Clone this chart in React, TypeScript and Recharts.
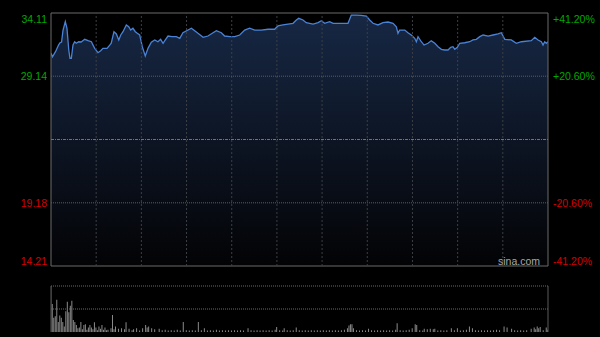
import {
  ComposedChart,
  BarChart,
  Area,
  Bar,
  XAxis,
  YAxis,
  ReferenceLine,
  ReferenceArea,
} from "recharts";

// price axis (HKD), previous close in the middle
const PRICE_TICKS = [14.21, 19.18, 24.16, 29.14, 34.11];
const PCT_TICKS = [-41.2, -20.6, 0, 20.6, 41.2];
const PRE_CLOSE = 24.16;
// half-hour marks, session = 330 minutes
const TIME_GRID = [30, 60, 90, 120, 150, 180, 210, 240, 270, 300];

// [minute, price]
const PRICE = [
  [0, 30.94], [1, 30.67], [3, 31.07], [5, 31.59], [6, 31.77], [7, 31.83],
  [8, 32.77], [9.5, 33.43], [10.6, 32.91], [11.8, 31.2], [12.6, 30.55],
  [13.5, 30.55], [14.6, 31.59], [15.7, 31.85], [16.8, 31.73], [18.4, 31.85],
  [20, 31.83], [22.4, 32.04], [24.6, 31.93], [26.8, 31.85], [29, 31.33],
  [31.2, 30.99], [33, 31.14], [34.5, 31.33], [37.2, 31.33], [39, 31.59],
  [40, 31.73], [41.8, 32.64], [43.4, 32.46], [45, 31.99], [46.3, 32.38],
  [47.8, 32.64], [50, 33.17], [51.6, 33.03], [52.9, 32.77], [54.4, 32.91],
  [56, 32.64], [57.3, 32.51], [58.9, 32.38], [60.6, 31.46], [62.6, 30.73],
  [64.4, 31.33], [66.6, 31.81], [68.9, 31.99], [71, 31.85], [72.8, 32.04],
  [74.4, 31.73], [75.9, 31.99], [77.7, 32.3], [80.3, 32.25], [83.2, 32.25],
  [85.5, 32.12], [87.6, 32.56], [91, 32.77], [93.2, 32.91], [95.4, 32.72],
  [97.6, 32.51], [101, 32.2], [104.2, 32.3], [107.6, 32.56], [109.8, 32.72],
  [113.1, 32.56], [115.3, 32.3], [118.7, 32.25], [122, 32.25], [125.3, 32.38],
  [128.6, 32.77], [131.9, 32.91], [135.3, 32.77], [139.6, 32.77], [144.1, 32.83],
  [148.5, 32.83], [150.7, 33.09], [154, 33.17], [157.4, 33.24], [160.7, 33.3],
  [162.9, 33.56], [164.5, 33.69], [167.3, 33.56], [169.5, 33.35], [174, 33.24],
  [177.3, 33.35], [179.5, 33.5], [181.7, 33.3], [185, 33.43], [187.3, 33.3],
  [197.2, 33.3], [199.4, 33.95], [202.7, 33.95], [206, 33.93], [209.4, 33.87],
  [211.6, 33.56], [213.8, 33.3], [217.1, 33.17], [220.4, 33.35], [223.8, 33.4],
  [227.1, 33.3], [229.3, 33.03], [230.4, 32.51], [231.5, 32.77], [234.9, 32.77],
  [237, 32.56], [239.2, 32.38], [241.5, 32.12], [242.6, 31.85], [243.7, 32.25],
  [245.9, 31.85], [247.7, 31.59], [250.3, 31.73], [252.5, 31.93], [254.8, 31.73],
  [257, 31.46], [259.2, 31.25], [261.4, 31.2], [263.6, 31.2], [265.4, 31.41],
  [266.9, 31.46], [268.1, 31.25], [269.8, 31.41], [271.4, 31.73], [274.7, 31.77],
  [278, 31.85], [280.2, 31.99], [282.4, 32.04], [284.7, 32.25], [286.9, 32.38],
  [290.2, 32.3], [293.5, 32.38], [296.8, 32.46], [299, 32.56], [301.3, 32.04],
  [305.6, 31.99], [309, 31.73], [312.3, 31.85], [318.9, 31.93], [321.2, 32.2],
  [323.4, 31.99], [325.6, 31.85], [326.7, 31.59], [327.8, 31.85], [328.9, 31.73],
  [330, 31.85],
];

// [minute, volume]
const VOLUME = [
  [0, 100], [1, 61], [2, 31], [3, 34], [4, 70], [5, 22], [6, 36], [7, 31],
  [8, 22], [9, 12], [10, 45], [11, 66], [12, 43], [13, 57], [14, 68], [15, 26],
  [16, 22], [17, 15], [18, 8], [19, 10], [20, 22], [21, 6], [22, 15], [23, 17],
  [24, 5], [25, 10], [26, 15], [27, 10], [28, 6], [29, 21], [30, 10], [31, 4],
  [32, 12], [33, 7], [34, 15], [35, 5], [36, 10], [37, 4], [38, 5], [40, 8],
  [41, 37], [42, 6], [43, 12], [45, 7], [47, 8], [49, 6], [50, 21], [52, 7],
  [54, 4], [55, 6], [57, 8], [59, 3], [61, 8], [63, 15], [64, 10], [65, 12],
  [67, 8], [69, 6], [72, 7], [74, 4], [76, 5], [78, 3], [80, 4], [82, 3],
  [84, 5], [86, 3], [88, 22], [90, 4], [92, 3], [94, 4], [96, 3], [98, 22],
  [100, 4], [102, 8], [104, 3], [106, 4], [108, 3], [110, 5], [112, 3], [114, 4],
  [116, 3], [118, 4], [120, 3], [122, 4], [124, 3], [126, 4], [128, 3], [131, 8],
  [133, 4], [135, 3], [137, 4], [139, 3], [141, 4], [143, 3], [145, 4], [147, 3],
  [149, 5], [150, 11], [152, 4], [154, 3], [155, 8], [157, 4], [159, 3], [161, 4],
  [163, 10], [165, 4], [167, 3], [169, 4], [171, 3], [173, 4], [175, 3], [177, 4],
  [179, 3], [181, 4], [183, 3], [185, 4], [187, 3], [189, 4], [191, 3], [193, 4],
  [195, 5], [197, 8], [198, 14], [199, 17], [200, 17], [201, 8], [203, 4], [205, 3],
  [207, 4], [209, 3], [211, 7], [213, 4], [215, 3], [217, 4], [219, 3], [221, 4],
  [223, 3], [225, 4], [227, 3], [229, 5], [230, 19], [232, 4], [234, 3], [236, 4],
  [238, 5], [240, 8], [242, 17], [243, 15], [245, 4], [247, 3], [248, 7], [250, 6],
  [252, 7], [254, 6], [255, 7], [257, 3], [259, 4], [261, 3], [263, 4], [266, 8],
  [268, 4], [270, 8], [272, 3], [274, 4], [276, 5], [278, 12], [280, 8], [282, 4],
  [284, 3], [286, 4], [288, 3], [290, 4], [292, 3], [294, 4], [296, 5], [298, 4],
  [301, 12], [303, 10], [306, 7], [308, 4], [310, 3], [312, 4], [314, 3], [316, 4],
  [319, 7], [321, 10], [322, 6], [323, 12], [324, 8], [325, 11], [327, 4], [329, 10],
  [330, 5],
];

const priceData = PRICE.map(([t, p]) => ({ t, p }));
const volData = VOLUME.map(([t, v]) => ({ t, v }));

const GREEN = "#00a800";
const RED = "#d80000";
const FONT = '"Liberation Sans", Arial, sans-serif';

const edgeShift = (v: number, lo: number, hi: number) =>
  v === hi ? 6 : v === lo ? -5 : 0;

const PriceTick = (props: any) => {
  const { x, y, payload } = props;
  const v = payload.value;
  if (v === PRE_CLOSE) return null;
  return (
    <text
      x={x}
      y={y + edgeShift(v, PRICE_TICKS[0], PRICE_TICKS[4])}
      textAnchor="end"
      dominantBaseline="central"
      fill={v > PRE_CLOSE ? GREEN : RED}
      fontSize={10.5}
      fontFamily={FONT}
    >
      {v.toFixed(2)}
    </text>
  );
};

const PctTick = (props: any) => {
  const { x, y, payload } = props;
  const v = payload.value;
  if (v === 0) return null;
  return (
    <text
      x={x}
      y={y + edgeShift(v, PCT_TICKS[0], PCT_TICKS[4])}
      textAnchor="start"
      dominantBaseline="central"
      fill={v > 0 ? GREEN : RED}
      fontSize={10.5}
      fontFamily={FONT}
    >
      {(v > 0 ? "+" : "") + v.toFixed(2) + "%"}
    </text>
  );
};

export default function App() {
  return (
    <div
      style={{
        position: "absolute",
        left: 0,
        top: 0,
        width: 600,
        height: 337,
        background: "#000",
      }}
    >
      <ComposedChart
        width={600}
        height={280}
        data={priceData}
        margin={{ top: 13, right: 0, bottom: 14, left: 0 }}
      >
        <defs>
          <linearGradient
            id="fillPrice"
            gradientUnits="userSpaceOnUse"
            x1="0"
            y1="13"
            x2="0"
            y2="266"
          >
            <stop offset="0%" stopColor="#172845" />
            <stop offset="50%" stopColor="#0d1524" />
            <stop offset="100%" stopColor="#030305" />
          </linearGradient>
        </defs>
        <XAxis
          dataKey="t"
          type="number"
          domain={[0, 330]}
          hide
          allowDataOverflow
        />
        <YAxis
          yAxisId="price"
          orientation="left"
          width={51}
          domain={[PRICE_TICKS[0], PRICE_TICKS[4]]}
          ticks={PRICE_TICKS}
          interval={0}
          allowDataOverflow
          axisLine={false}
          tickLine={false}
          tickSize={0}
          tickMargin={4}
          tick={<PriceTick />}
        />
        <YAxis
          yAxisId="pct"
          orientation="right"
          width={52}
          domain={[PCT_TICKS[0], PCT_TICKS[4]]}
          ticks={PCT_TICKS}
          interval={0}
          allowDataOverflow
          axisLine={false}
          tickLine={false}
          tickSize={0}
          tickMargin={5}
          tick={<PctTick />}
        />
        <Area
          yAxisId="price"
          type="linear"
          dataKey="p"
          stroke="#4a82d6"
          strokeWidth={1.3}
          fill="url(#fillPrice)"
          fillOpacity={1}
          baseValue="dataMin"
          dot={false}
          activeDot={false}
          isAnimationActive={false}
        />
        {TIME_GRID.map((t) => (
          <ReferenceLine
            key={t}
            yAxisId="price"
            x={t}
            stroke="#3c3f44"
            strokeDasharray="2 2"
          />
        ))}
        <ReferenceLine
          yAxisId="price"
          y={PRICE_TICKS[3]}
          stroke="#5e5e5e"
          strokeDasharray="1 1"
        />
        <ReferenceLine
          yAxisId="price"
          y={PRICE_TICKS[1]}
          stroke="#5e5e5e"
          strokeDasharray="1 1"
        />
        <ReferenceLine
          yAxisId="price"
          y={PRE_CLOSE}
          stroke="#6e737a"
          strokeDasharray="3 1 1 1"
        />
        <ReferenceArea
          yAxisId="price"
          x1={0}
          x2={330}
          y1={PRICE_TICKS[0]}
          y2={PRICE_TICKS[4]}
          fill="none"
          stroke="#6a6a6a"
          strokeWidth={1}
          ifOverflow="visible"
        />
      </ComposedChart>
      <div
        style={{
          position: "absolute",
          left: 498,
          top: 254,
          fontFamily: FONT,
          fontSize: 10.5,
          color: "#a8a8a8",
          lineHeight: "14px",
        }}
      >
        sina.com
      </div>
      <div style={{ position: "absolute", left: 0, top: 280 }}>
        <BarChart
          width={600}
          height={57}
          data={volData}
          margin={{ top: 6, right: 52, bottom: 5, left: 51 }}
        >
          <XAxis
            dataKey="t"
            type="number"
            domain={[0, 330]}
            hide
            allowDataOverflow
          />
          <YAxis hide domain={[0, 100]} allowDataOverflow />
          <ReferenceLine y={100} stroke="#6a6a6a" strokeDasharray="1 1" />
          <ReferenceLine y={50} stroke="#6a6a6a" strokeDasharray="1 1" />
          <Bar
            dataKey="v"
            fill="#8a8a8a"
            barSize={1}
            isAnimationActive={false}
          />
          <ReferenceLine x={0} stroke="#5a5a5a" />
          <ReferenceLine x={330} stroke="#5a5a5a" />
        </BarChart>
      </div>
    </div>
  );
}
